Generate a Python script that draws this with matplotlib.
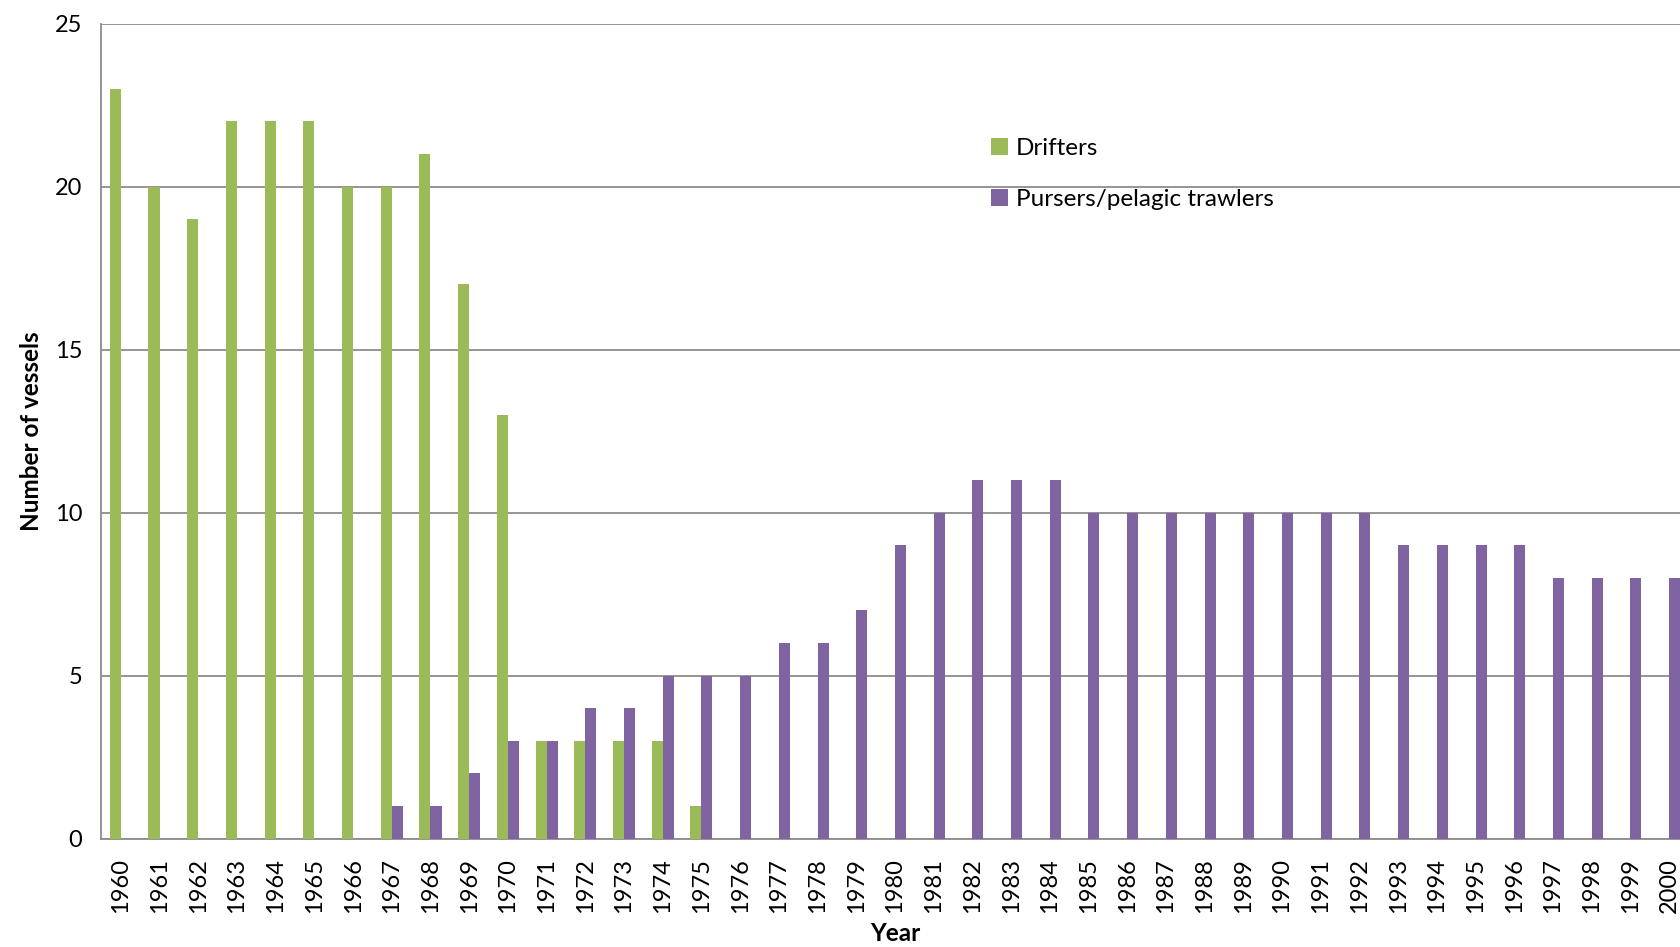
import numpy as np
import matplotlib.pyplot as plt

# Datos
years = [str(y) for y in range(1960, 2001)]
drifters = [23, 20, 19, 22, 22, 22, 20, 20, 21, 17, 13, 3, 3, 3, 3, 1] + [np.nan] * 25
pursers = [np.nan] * 7 + [1, 1, 2, 3, 3, 4, 4, 5, 5, 5, 6, 6, 7, 9, 10, 11, 11, 11,
                          10, 10, 10, 10, 10, 10, 10, 10, 9, 9, 9, 9, 8, 8, 8, 8]

plt.rcParams['font.family'] = ['Lato', 'DejaVu Sans']

fig = plt.figure(figsize=(16.8, 9.47), dpi=100)
# el gráfico original está recortado por la derecha
ax = fig.add_axes([0.0604, 0.1144, 0.9446, 0.8606])

x = np.arange(len(years))
w = 0.285
ax.bar(x - w / 2, drifters, w, color='#9BBB59', label='Drifters', zorder=3)
ax.bar(x + w / 2, pursers, w, color='#8064A2', label='Pursers/pelagic trawlers', zorder=3)

ax.set_xlim(-0.5, len(years) - 0.5)
ax.set_ylim(0, 25)
ax.set_yticks([0, 5, 10, 15, 20, 25])
ax.yaxis.grid(True, color='#8c8c8c', linewidth=1.3, zorder=0)
ax.set_xticks(x)
ax.set_xticklabels(years, rotation=90, fontsize=17)
ax.tick_params(axis='y', labelsize=17, length=0, pad=14)
ax.tick_params(axis='x', length=0, pad=14)

for s in ['top', 'right']:
    ax.spines[s].set_visible(False)
for s in ['left', 'bottom']:
    ax.spines[s].set_color('#8c8c8c')
    ax.spines[s].set_linewidth(1.3)

ax.set_ylabel('Number of vessels', fontsize=17.5, fontweight='bold', labelpad=8)
ax.set_xlabel('Year', fontsize=17.5, fontweight='bold', labelpad=6)

ax.legend(loc='upper left', bbox_to_anchor=(0.577, 0.877), bbox_transform=fig.transFigure,
          frameon=False, fontsize=17.5, handlelength=0.7, handleheight=0.7,
          handletextpad=0.3, labelspacing=1.2)

plt.savefig('out.png', dpi=100)
